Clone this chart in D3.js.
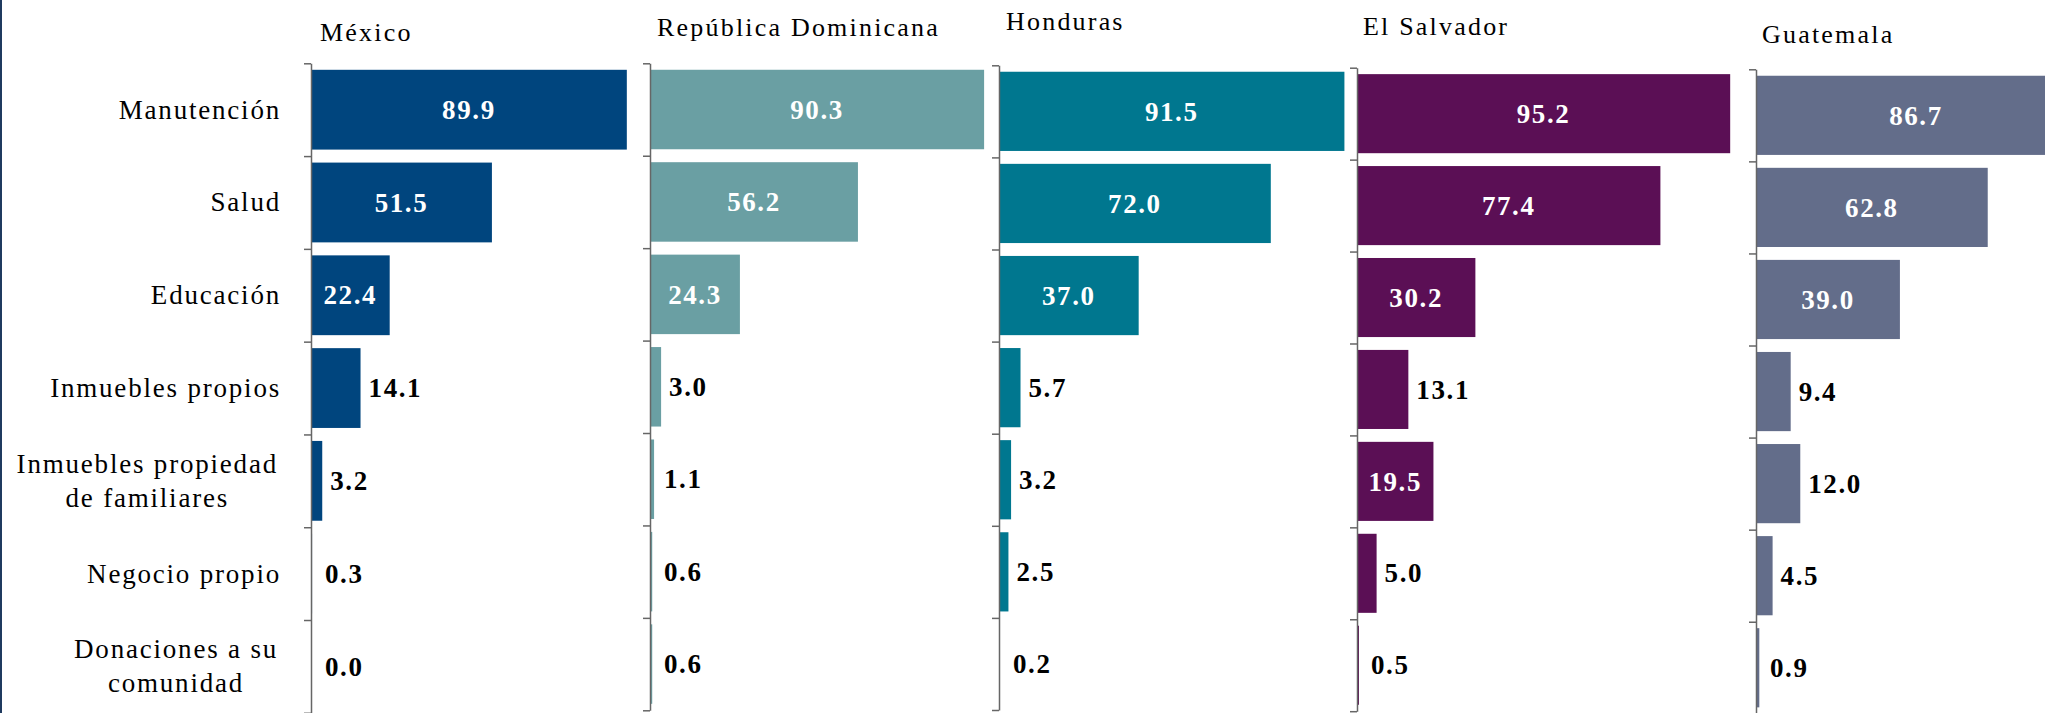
<!DOCTYPE html>
<html lang="es">
<head>
    <meta charset="UTF-8">
    <style>
        body { margin: 0; background: #fff; }
        text { font-family: "Liberation Serif", "Times New Roman", serif; }
        .cat { font-size: 27px; letter-spacing: 1.8px; fill: #000; }
        .title { font-size: 26px; letter-spacing: 2.2px; fill: #000; }
        .val { font-size: 27px; font-weight: bold; letter-spacing: 1.6px; }
        .axis path, .axis line { stroke: #666; stroke-width: 1.5; }
    </style>
    <script src="https://d3js.org/d3.v7.min.js"></script>
    <title>Uso de remesas por país</title>
</head>
<body>
    <svg width="2045" height="713"></svg>
    <script>

        // data
        var categories = ["Manutención", "Salud", "Educación", "Inmuebles propios",
                          "Inmuebles propiedad\nde familiares", "Negocio propio",
                          "Donaciones a su\ncomunidad"];

        var countries = ["México", "República Dominicana", "Honduras", "El Salvador", "Guatemala"];

        var mexico      = [89.9, 51.5, 22.4, 14.1, 3.2, 0.3, 0.0];
        var repDom      = [90.3, 56.2, 24.3, 3.0, 1.1, 0.6, 0.6];
        var honduras    = [91.5, 72.0, 37.0, 5.7, 3.2, 2.5, 0.2];
        var elSalvador  = [95.2, 77.4, 30.2, 13.1, 19.5, 5.0, 0.5];
        var guatemala   = [86.7, 62.8, 39.0, 9.4, 12.0, 4.5, 0.9];

        var series = [mexico, repDom, honduras, elSalvador, guatemala];

        // layout of each small panel (the source panels are not perfectly aligned)
        var panels = [
            { x: 311, top: 63.3, bottom: 712.8, k: 3.513, color: "#00457e", tx: 320, ty: 41 },
            { x: 650, top: 63.3, bottom: 710.3, k: 3.70,  color: "#6a9fa3", tx: 657, ty: 36 },
            { x: 999, top: 65.3, bottom: 710.0, k: 3.775, color: "#00778f", tx: 1006, ty: 29.5 },
            { x: 1357, top: 67.7, bottom: 711.2, k: 3.92, color: "#5b0f55", tx: 1363, ty: 35 },
            { x: 1756, top: 69.3, bottom: 713.8, k: 3.69, color: "#636d8a", tx: 1762, ty: 43 }
        ];

        var svg = d3.select("svg");

        // left border
        svg.append("rect")
           .attr("x", 0).attr("y", 0)
           .attr("width", 2).attr("height", 713)
           .attr("fill", "#1f3a5f");

        panels.forEach(function(p, i) {
            var g = svg.append("g");

            var y = d3.scaleBand()
                      .domain(categories)
                      .range([p.top, p.bottom])
                      .paddingInner(0.14)
                      .paddingOuter(0.07);

            var yEdge = d3.scaleLinear()
                          .domain([0, categories.length])
                          .range([p.top, p.bottom]);

            var x = d3.scaleLinear()
                      .domain([0, 100])
                      .range([p.x, p.x + 100 * p.k]);

            var data = series[i].map(function(v, j) { return { cat: categories[j], v: v }; });

            g.selectAll(".bar")
             .data(data)
             .enter().append("rect")
             .attr("class", "bar")
             .attr("x", x(0))
             .attr("y", function(d) { return y(d.cat); })
             .attr("width", function(d) { return Math.max(x(d.v) - x(0), 0); })
             .attr("height", y.bandwidth())
             .attr("fill", p.color);

            // axis with ticks between the categories
            g.append("g")
             .attr("class", "axis")
             .attr("transform", "translate(" + p.x + ",0)")
             .call(d3.axisLeft(yEdge)
                     .tickValues(d3.range(categories.length + 1))
                     .tickFormat("")
                     .tickSize(7)
                     .tickSizeOuter(0));

            // values
            g.selectAll(".val")
             .data(data)
             .enter().append("text")
             .attr("class", "val")
             .attr("y", function(d) { return y(d.cat) + y.bandwidth() / 2; })
             .attr("dy", "0.34em")
             .attr("x", function(d) {
                 if (d.v > 15) return (x(0) + x(d.v)) / 2;
                 return Math.max(x(d.v) + 8, x(0) + 14);
             })
             .attr("text-anchor", function(d) { return d.v > 15 ? "middle" : "start"; })
             .attr("fill", function(d) { return d.v > 15 ? "#fff" : "#000"; })
             .text(function(d) { return d.v.toFixed(1); });

            // title
            svg.append("text")
               .attr("class", "title")
               .attr("x", p.tx)
               .attr("y", p.ty)
               .text(countries[i]);

            // category labels only on the first panel
            if (i === 0) {
                var right = 281;
                categories.forEach(function(c) {
                    var lines = c.split("\n");
                    var cy = y(c) + y.bandwidth() / 2;
                    var t = g.append("text").attr("class", "cat");
                    if (lines.length === 1) {
                        t.attr("x", right).attr("y", cy + 9)
                         .attr("text-anchor", "end").text(c);
                    } else {
                        var spans = t.selectAll("tspan")
                                     .data(lines)
                                     .enter().append("tspan")
                                     .attr("y", function(d, k) { return cy + 9 + (k - 0.5) * 34; })
                                     .text(function(d) { return d; });
                        var w = 0;
                        spans.each(function() { w = Math.max(w, this.getComputedTextLength()); });
                        spans.attr("x", right - 3 - w / 2).attr("text-anchor", "middle");
                    }
                });
            }
        });

    </script>
</body>
</html>
